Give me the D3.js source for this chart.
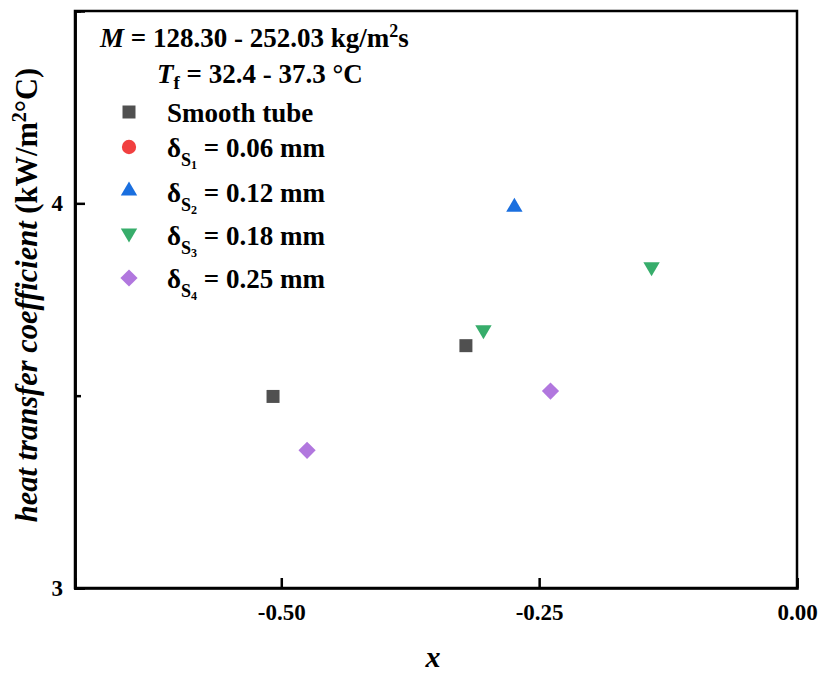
<!DOCTYPE html>
<html>
<head>
<meta charset="utf-8">
<script src="https://cdn.jsdelivr.net/npm/d3@7"></script>
<style>
  html, body { margin: 0; padding: 0; background: #fff; }
</style>
</head>
<body>
<svg id="chart" width="821" height="675" font-family="Liberation Serif" font-weight="bold"></svg>
<script>
// ---- data ----
const seriesNames = ["Smooth tube", "δS1 = 0.06 mm", "δS2 = 0.12 mm", "δS3 = 0.18 mm", "δS4 = 0.25 mm"];
const smoothX = [-0.508, -0.321];
const smoothY = [3.498, 3.630];
const s1X = [];
const s1Y = [];
const s2X = [-0.274];
const s2Y = [3.995];
const s3X = [-0.304, -0.141];
const s3Y = [3.666, 3.830];
const s4X = [-0.475, -0.239];
const s4Y = [3.358, 3.512];
const xTicks = [-0.5, -0.25, 0];
const yTicks = [3, 4];
const yMinorTicks = [3.5];
const xDomain = [-0.7, 0];
const yDomain = [3, 4.5];

// ---- layout ----
const FONT = "Liberation Serif";
const svg = d3.select("#chart");
const L = 75, R = 797, T = 11, B = 588;
const x = d3.scaleLinear().domain(xDomain).range([L, R]);
const y = d3.scaleLinear().domain(yDomain).range([B, T]);

const colors = ["#505050", "#f14040", "#1a6fdf", "#37ad6b", "#b177de"];
const sq = d3.symbol().type(d3.symbolSquare).size(169)();
const circ = d3.symbol().type(d3.symbolCircle).size(160)();
const tri = "M0,-7.5L8.2,6.5L-8.2,6.5Z";
const triDown = "M0,7.5L8.2,-6.5L-8.2,-6.5Z";
const dia = "M0,-8.6L8.6,0L0,8.6L-8.6,0Z";
const shapes = [sq, circ, tri, triDown, dia];

const series = [
  {xs: smoothX, ys: smoothY},
  {xs: s1X, ys: s1Y},
  {xs: s2X, ys: s2Y},
  {xs: s3X, ys: s3Y},
  {xs: s4X, ys: s4Y}
];

// frame
svg.append("rect").attr("x", L).attr("y", T).attr("width", R - L).attr("height", B - T)
  .attr("fill", "none").attr("stroke", "#000").attr("stroke-width", 2.5);

// axes
const xAxis = d3.axisBottom(x).tickValues(xTicks).tickSize(-10).tickPadding(16)
  .tickFormat(d => d.toFixed(2));
const gx = svg.append("g").attr("transform", `translate(0,${B})`).call(xAxis);
const yAxis = d3.axisLeft(y).tickValues(yTicks).tickSize(-10).tickPadding(12).tickFormat(d3.format("d"));
const gy = svg.append("g").attr("transform", `translate(${L},0)`).call(yAxis);
const yMinor = d3.axisLeft(y).tickValues(yMinorTicks).tickSize(-6).tickFormat("");
const gym = svg.append("g").attr("transform", `translate(${L},0)`).call(yMinor);
[gx, gy, gym].forEach(g => {
  g.attr("font-family", FONT).attr("font-size", 23).attr("font-weight", "bold");
  g.select(".domain").attr("stroke-width", 2.5);
  g.selectAll(".tick line").attr("stroke-width", 2.5);
  g.selectAll(".tick text").attr("fill", "#000");
});

// points
series.forEach((s, i) => {
  svg.append("g").selectAll("path").data(s.xs.map((v, j) => [v, s.ys[j]])).join("path")
    .attr("d", shapes[i])
    .attr("transform", d => `translate(${x(d[0])},${y(d[1])})`)
    .attr("fill", colors[i]);
});

function txt(xp, yp, size) {
  return svg.append("text").attr("x", xp).attr("y", yp)
    .attr("font-family", FONT).attr("font-weight", "bold").attr("font-size", size);
}

// axis titles
txt((L + R) / 2 - 3, 667, 30).attr("text-anchor", "middle").attr("font-style", "italic").text("x");

const yl = svg.append("text").attr("transform", "translate(37,295) rotate(-90)")
  .attr("text-anchor", "middle")
  .attr("font-family", FONT).attr("font-weight", "bold").attr("font-size", 30.5);
yl.append("tspan").attr("font-style", "italic").text("heat transfer coefficient");
yl.append("tspan").text(" (kW/m");
yl.append("tspan").attr("font-size", 20).attr("dy", -11).text("2");
yl.append("tspan").attr("dy", 11).text("°C)");

// annotation lines
const t1 = txt(100, 47, 27);
t1.append("tspan").attr("font-style", "italic").text("M");
t1.append("tspan").text(" = 128.30 - 252.03 kg/m");
t1.append("tspan").attr("font-size", 18).attr("dy", -10).text("2");
t1.append("tspan").attr("dy", 10).text("s");

const t2 = txt(157, 83, 27);
t2.append("tspan").attr("font-style", "italic").text("T");
t2.append("tspan").attr("font-size", 19).attr("dy", 6).text("f");
t2.append("tspan").attr("dy", -6).text(" = 32.4 - 37.3 °C");

// legend
const legY = [112, 147, 189, 235, 278];
const legBase = [122, 157, 202, 245, 288];
const subNums = ["", "1", "2", "3", "4"];
const legVals = ["", "0.06", "0.12", "0.18", "0.25"];
series.forEach((s, i) => {
  svg.append("path").attr("d", shapes[i]).attr("transform", `translate(129,${legY[i]})`).attr("fill", colors[i]);
  const t = txt(167, legBase[i], 27);
  if (i === 0) {
    t.text(seriesNames[0]);
  } else {
    t.append("tspan").text("δ");
    t.append("tspan").attr("font-size", 18).attr("dy", 9).text("S");
    t.append("tspan").attr("font-size", 12).attr("dy", 3).text(subNums[i]);
    t.append("tspan").attr("dy", -12).text(" = " + legVals[i] + " mm");
  }
});
</script>
</body>
</html>
